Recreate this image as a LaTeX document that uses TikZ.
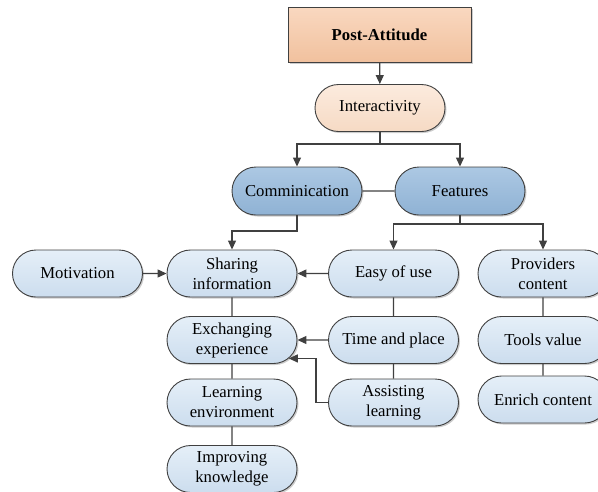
\documentclass[tikz,border=0pt]{standalone}
\usepackage{fontspec}
\setmainfont{Liberation Serif}
\usetikzlibrary{arrows.meta,shapes.misc,shadows}

\definecolor{linegray}{RGB}{64,64,64}
\definecolor{peachtop}{RGB}{249,216,192}
\definecolor{peachbot}{RGB}{241,193,158}
\definecolor{lpeachtop}{RGB}{252,235,222}
\definecolor{lpeachbot}{RGB}{246,218,196}
\definecolor{bluetop}{RGB}{172,200,227}
\definecolor{bluebot}{RGB}{143,178,212}
\definecolor{lbluetop}{RGB}{229,239,248}
\definecolor{lbluebot}{RGB}{204,221,238}

\begin{document}
\begin{tikzpicture}[x=1pt,y=-1pt,line width=1.2pt,draw=linegray,
    >={Triangle[length=9pt,width=8pt]},
    every text node part/.style={align=center},
    every node/.style={font=\fontsize{16.7}{20}\selectfont,inner sep=0pt},
    pill/.style={rounded rectangle,draw=linegray,line width=0.9pt,
      minimum width=130pt,minimum height=47pt,
      drop shadow={shadow xshift=1.5pt,shadow yshift=-1.5pt,fill=black,opacity=0.2}},
    leaf/.style={pill,top color=lbluetop,bottom color=lbluebot},
    mid/.style={pill,top color=bluetop,bottom color=bluebot}]

    \useasboundingbox (0,0) rectangle (598,491);

    % --------------------------------------------------------- %
    % ------------- top of the tree
    % --------------------------------------------------------- %
    \node[rectangle,draw=linegray,line width=0.9pt,minimum width=183pt,minimum height=55pt,
      top color=peachtop,bottom color=peachbot,
      drop shadow={shadow xshift=1.5pt,shadow yshift=-1.5pt,fill=black,opacity=0.2}]
      (post) at (379.5,34.5) {\textbf{Post-Attitude}};
    \node[pill,top color=lpeachtop,bottom color=lpeachbot] (inter) at (380,108) {Interactivity};
    \draw[->,linegray] (post) -- (inter);

    % --------------------------------------------------------- %
    % ------------ second level
    % --------------------------------------------------------- %
    \node[mid,minimum height=48pt] (comm) at (297,191) {Comminication};
    \node[mid,minimum height=48pt] (feat) at (460,191) {Features};
    \coordinate (jinter) at (380,144);
    \draw[->,linegray] (inter) -- (jinter) -| (comm);
    \draw[->,linegray] (jinter) -| (feat);
    \draw[linegray] (comm) -- (feat);

    % --------------------------------------------------------- %
    % ------------ third level
    % --------------------------------------------------------- %
    \node[leaf] (motiv) at (77.5,273.5) {Motivation};
    \node[leaf] (share) at (232,273.5) {Sharing\\information};
    \node[leaf] (easy) at (393.5,273.5) {Easy of use};
    \node[leaf] (prov) at (543,273.5) {Providers\\content};

    \coordinate (jcomm) at (297,231);
    \draw[->,linegray] (comm) -- (jcomm) -| (share);
    \coordinate (jfeat) at (460,224);
    \draw[->,linegray] (feat) -- (jfeat) -| (easy);
    \draw[->,linegray] (jfeat) -| (prov);
    \draw[->,linegray] (motiv) -- (share);
    \draw[->,linegray] (easy) -- (share);

    % --------------------------------------------------------- %
    % ------------ columns below
    % --------------------------------------------------------- %
    \node[leaf] (exch) at (232,340) {Exchanging\\experience};
    \node[leaf] (learn) at (232,402.5) {Learning\\environment};
    \node[leaf] (improv) at (232,469) {Improving\\knowledge};
    \draw[linegray] (share) -- (exch);
    \draw[linegray] (exch) -- (learn);
    \draw[linegray] (learn) -- (improv);

    \node[leaf] (time) at (393.5,340) {Time and place};
    \node[leaf] (assist) at (393.5,402.5) {Assisting\\learning};
    \draw[linegray] (easy) -- (time);
    \draw[linegray] (time) -- (assist);
    \draw[->,linegray] (time) -- (exch);
    \draw[->,linegray] (assist.west) -- ++(-12,0) |- (exch.-18);

    \node[leaf] (tools) at (543,340) {Tools value};
    \node[leaf] (enrich) at (543,399.5) {Enrich content};
    \draw[linegray] (prov) -- (tools);
    \draw[linegray] (tools) -- (enrich);

  \end{tikzpicture}
\end{document}
